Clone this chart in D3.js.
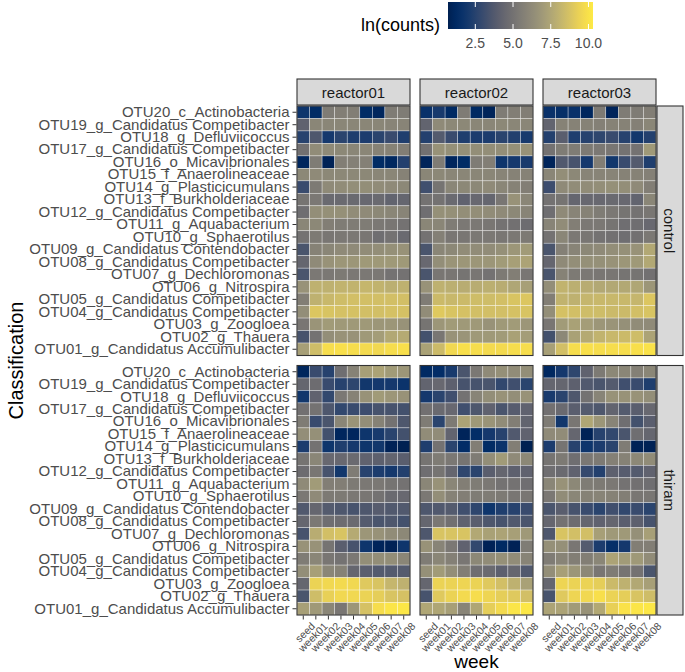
<!DOCTYPE html>
<html>
<head>
<meta charset="utf-8">
<script src="https://cdn.jsdelivr.net/npm/d3@7"></script>
<style>
body { margin: 0; background: #fff; }
text { font-family: "Liberation Sans", Arial, sans-serif; }
</style>
</head>
<body>
<svg></svg>
<script>
// categories
var weeks = ["seed","week01","week02","week03","week04","week05","week06","week07","week08"]
var otus = ["OTU20_c_Actinobacteria","OTU19_g_Candidatus Competibacter","OTU18_g_Defluviicoccus",
  "OTU17_g_Candidatus Competibacter","OTU16_o_Micavibrionales","OTU15_f_Anaerolineaceae",
  "OTU14_g_Plasticicumulans","OTU13_f_Burkholderiaceae","OTU12_g_Candidatus Competibacter",
  "OTU11_g_Aquabacterium","OTU10_g_Sphaerotilus","OTU09_g_Candidatus Contendobacter",
  "OTU08_g_Candidatus Competibacter","OTU07_g_Dechloromonas","OTU06_g_Nitrospira",
  "OTU05_g_Candidatus Competibacter","OTU04_g_Candidatus Competibacter","OTU03_g_Zoogloea",
  "OTU02_g_Thauera","OTU01_g_Candidatus Accumulibacter"]
var reactors = ["reactor01","reactor02","reactor03"]
var treatments = ["control","thiram"]
var legendTicks = [2.5, 5.0, 7.5, 10.0]

// ln(counts), rows listed top to bottom (OTU20 ... OTU01), columns seed..week08
var control_r01 = [
 [1.8,1.3,5.5,5.6,5.6,1.3,1.0,5.5,5.5],
 [4.2,6.0,6.0,6.0,6.0,6.0,6.0,5.9,5.9],
 [2.5,3.6,2.0,2.6,2.3,2.2,2.6,3.0,2.3],
 [4.9,6.3,6.2,6.1,6.0,6.0,5.8,5.8,5.6],
 [1.0,5.5,0.8,5.6,5.7,5.7,1.3,1.1,2.4],
 [6.1,6.2,6.1,6.1,6.1,6.1,6.0,6.0,5.8],
 [3.0,5.4,6.2,6.3,6.4,6.4,6.3,6.2,6.1],
 [5.1,5.3,4.6,4.6,4.6,4.5,4.6,4.3,4.4],
 [4.8,6.4,6.5,6.5,6.3,6.2,6.1,6.0,5.9],
 [6.0,6.1,5.6,5.5,5.5,5.5,5.3,5.2,5.0],
 [5.0,5.4,5.2,5.3,5.3,5.2,4.8,5.0,4.6],
 [3.5,5.8,6.0,6.2,6.2,6.3,6.4,6.5,6.6],
 [4.4,6.2,6.6,6.8,6.8,6.9,6.9,6.9,6.9],
 [3.5,5.3,5.3,5.4,5.3,5.3,5.3,5.0,5.0],
 [6.6,8.0,8.0,8.1,8.1,8.2,8.1,7.9,8.0],
 [5.6,8.0,8.3,8.5,8.6,8.6,8.6,8.6,8.6],
 [6.4,8.9,8.8,8.7,8.7,8.6,8.6,8.7,8.7],
 [5.2,6.7,7.0,6.9,6.9,6.9,6.8,6.8,6.6],
 [3.4,5.0,6.4,6.6,6.6,6.9,7.1,7.6,7.7],
 [7.2,8.5,9.8,9.9,9.8,9.7,9.6,9.8,9.9]
]
var control_r02 = [
 [1.6,2.1,1.2,5.5,1.2,0.9,5.5,5.6,5.6],
 [4.3,6.2,6.1,6.1,6.0,6.0,6.1,6.0,6.0],
 [2.4,3.8,3.0,2.3,2.2,2.2,2.6,2.4,2.1],
 [4.9,6.6,6.5,6.5,6.4,6.4,6.4,6.5,6.6],
 [0.9,5.5,1.0,1.3,5.5,5.6,1.8,2.0,2.1],
 [6.0,6.1,6.0,6.0,6.0,6.0,5.9,5.8,5.8],
 [3.2,5.1,6.0,6.1,6.1,6.2,6.0,5.8,5.6],
 [5.0,5.0,4.6,4.2,4.5,4.4,5.2,6.6,6.0],
 [4.8,6.5,6.5,6.4,6.4,6.3,6.2,6.1,5.9],
 [6.0,6.0,5.5,5.3,5.3,5.2,5.0,4.9,4.7],
 [5.0,5.7,5.2,5.2,5.3,5.3,5.2,5.3,5.4],
 [3.5,6.0,6.1,6.3,6.3,6.3,6.5,6.8,7.0],
 [4.5,6.4,6.7,6.8,6.8,6.8,7.0,7.2,7.4],
 [3.5,5.2,5.2,5.1,5.2,5.0,5.4,5.6,5.2],
 [6.6,8.0,7.9,7.8,7.8,7.9,7.8,7.5,7.2],
 [5.5,8.4,8.3,8.4,8.5,8.5,8.6,8.8,8.9],
 [6.3,9.0,8.8,8.7,8.6,8.6,8.6,8.7,8.8],
 [5.1,6.8,7.0,6.9,6.9,6.6,6.9,7.0,6.8],
 [3.3,5.2,6.6,6.7,6.9,6.9,7.0,7.3,7.1],
 [7.3,8.4,9.6,9.9,9.8,9.7,9.7,9.8,9.8]
]
var control_r03 = [
 [1.6,1.5,1.6,1.0,5.4,0.9,5.5,5.5,5.6],
 [4.3,5.8,5.8,5.8,5.7,5.8,5.8,5.7,6.0],
 [2.4,4.0,2.3,2.5,2.7,3.0,2.5,1.9,2.4],
 [5.0,5.5,5.5,5.4,5.3,5.2,5.0,5.0,6.9],
 [0.9,3.7,3.4,2.0,5.6,1.9,3.0,3.8,2.3],
 [6.0,6.4,6.1,5.9,5.9,5.9,5.8,5.8,5.7],
 [3.1,6.2,6.3,6.3,6.4,6.5,6.4,6.2,5.6],
 [5.0,5.1,4.4,4.5,4.5,4.6,4.5,4.3,6.0],
 [4.8,6.2,5.9,5.8,5.5,5.3,5.1,5.0,5.2],
 [5.9,6.3,5.6,5.3,5.3,5.1,4.8,4.8,4.5],
 [5.0,6.0,5.3,5.2,5.0,4.9,4.8,4.9,5.3],
 [3.5,5.7,5.9,6.1,6.2,6.4,6.5,6.6,7.6],
 [4.4,6.2,6.4,6.5,6.5,6.6,6.8,6.9,7.6],
 [3.5,5.8,5.4,5.3,5.2,5.2,5.1,5.1,4.9],
 [6.4,8.1,7.9,7.8,7.6,7.6,7.6,7.5,6.8],
 [5.6,8.1,8.0,8.2,8.3,8.3,8.3,8.2,8.9],
 [6.4,8.7,8.6,8.5,8.5,8.4,8.4,8.6,8.8],
 [5.2,7.0,7.3,7.1,6.8,6.7,6.5,6.3,6.2],
 [3.3,6.1,7.3,7.7,8.1,8.3,8.4,8.5,7.4],
 [7.2,8.6,9.8,9.9,9.8,9.8,9.8,9.9,10.0]
]
var thiram_r01 = [
 [1.0,3.0,2.5,4.8,5.8,7.2,7.4,7.0,6.8],
 [4.4,4.7,3.0,2.5,2.7,1.9,2.0,2.0,1.7],
 [1.9,4.2,2.8,5.3,5.8,6.6,7.0,6.8,6.6],
 [4.9,5.0,3.6,2.8,3.0,3.1,3.4,3.4,3.3],
 [5.5,3.0,3.5,6.0,6.7,6.4,5.8,5.0,3.6],
 [6.4,6.5,3.3,1.0,1.0,1.8,2.1,2.6,3.3],
 [2.2,5.0,1.8,2.3,2.0,1.8,1.9,0.8,0.7],
 [5.1,6.0,4.5,4.5,4.6,4.2,4.1,4.3,4.0],
 [4.7,5.2,3.4,1.9,5.5,2.5,2.2,2.0,2.4],
 [6.2,7.0,5.6,5.6,5.4,5.3,5.3,5.1,5.0],
 [5.3,6.2,5.4,5.4,5.3,5.2,5.0,4.6,4.5],
 [3.7,4.4,3.8,3.6,3.4,3.6,3.9,3.7,3.7],
 [4.4,5.3,4.8,4.7,4.6,3.8,3.5,3.6,3.3],
 [3.4,7.8,8.6,8.8,7.7,6.8,6.6,6.3,6.1],
 [6.6,6.6,5.1,4.0,3.4,1.8,0.9,0.8,1.8],
 [5.5,6.0,5.2,5.0,5.3,6.4,6.4,6.4,6.0],
 [6.4,7.2,6.0,5.8,4.4,4.0,3.8,3.8,3.8],
 [4.4,9.4,9.6,9.7,9.6,9.0,8.8,8.2,8.0],
 [3.5,8.5,9.3,9.6,9.6,9.4,9.2,8.8,8.7],
 [7.2,6.9,6.0,5.2,6.8,8.7,9.8,10.1,10.2]
]
var thiram_r02 = [
 [1.2,1.4,2.1,3.5,5.3,6.2,6.5,6.3,6.4],
 [4.3,4.5,4.1,3.4,3.4,3.5,2.8,3.2,2.6],
 [2.0,2.6,3.2,5.0,5.9,6.4,6.6,6.4,6.6],
 [4.9,4.6,4.5,3.2,3.6,4.2,3.5,3.9,4.2],
 [5.5,2.6,5.4,7.4,6.9,6.7,6.3,5.6,4.3],
 [6.3,6.3,4.3,0.9,1.4,2.0,2.5,3.7,4.2],
 [2.3,5.0,2.6,1.4,5.6,1.3,1.7,5.6,0.7],
 [5.1,5.5,5.3,5.1,5.5,6.4,7.0,6.2,6.1],
 [4.8,5.1,4.4,2.7,2.6,4.0,4.4,4.1,4.2],
 [6.0,6.6,6.0,5.6,5.5,5.3,5.0,5.0,4.8],
 [5.3,6.4,5.8,5.6,5.5,5.5,5.4,5.2,5.2],
 [3.6,3.7,3.8,3.2,2.7,1.8,2.3,2.5,3.0],
 [4.4,5.3,4.9,4.2,4.0,3.6,3.4,3.7,3.5],
 [3.6,8.8,8.8,8.8,7.6,7.3,7.4,7.2,6.9],
 [6.6,5.9,5.3,4.2,2.8,0.8,1.2,0.8,5.5],
 [5.5,6.0,5.7,5.2,6.1,6.3,6.5,6.3,5.9],
 [6.5,7.0,6.4,5.6,4.8,4.6,4.1,4.4,3.7],
 [4.4,9.4,9.4,9.5,9.4,9.0,8.6,8.0,7.3],
 [3.4,9.0,9.4,9.7,9.8,9.5,9.2,9.0,8.6],
 [7.5,7.5,7.2,5.9,7.5,9.2,9.7,10.1,10.2]
]
var thiram_r03 = [
 [1.1,2.0,2.7,4.2,5.4,6.1,6.0,5.7,6.0],
 [4.4,4.4,4.1,3.7,3.5,3.8,3.2,3.0,2.3],
 [2.1,2.6,3.6,5.0,5.9,6.6,6.6,6.6,6.4],
 [4.9,4.6,4.0,3.8,3.6,4.3,3.8,4.0,4.5],
 [5.5,1.9,5.2,7.5,6.8,5.9,4.8,3.3,4.0],
 [6.2,6.3,4.4,0.8,2.5,2.8,3.5,4.8,4.4],
 [2.2,5.1,2.5,1.8,2.2,2.6,5.5,0.8,0.8],
 [5.1,5.4,4.8,5.3,5.4,5.7,5.8,6.1,6.3],
 [4.8,4.6,4.2,2.9,2.4,4.1,3.9,3.8,4.2],
 [6.0,6.6,6.1,5.5,5.4,5.3,5.0,4.9,4.8],
 [5.3,6.3,6.0,5.8,5.9,5.8,5.6,5.2,5.2],
 [3.5,4.0,3.4,3.0,2.6,3.2,2.8,3.0,2.6],
 [4.4,5.0,4.7,4.4,4.2,4.4,4.0,4.1,3.4],
 [3.6,8.8,8.6,8.6,7.2,6.9,6.9,6.5,7.2],
 [6.5,6.5,5.2,3.8,2.2,1.5,2.0,5.6,5.6],
 [5.5,5.9,5.6,5.6,6.0,7.4,7.0,6.9,6.3],
 [6.4,7.2,6.8,6.1,5.2,5.5,5.1,5.0,3.5],
 [4.4,9.5,9.4,9.4,9.2,8.4,8.0,7.6,7.2],
 [3.4,9.0,9.5,9.6,9.9,9.4,9.2,8.8,8.5],
 [7.4,7.4,7.0,6.6,7.6,9.3,10.0,10.1,10.2]
]

var panelData = {
  control: [control_r01, control_r02, control_r03],
  thiram: [thiram_r01, thiram_r02, thiram_r03]
}

var screen = {width:685, height:672}
var panel = {left:297, top:106, width:113, height:249.5, gap:10}

var svg = d3.select("svg")
  .attr("width", screen.width)
  .attr("height", screen.height)

var cScale = d3.scaleSequential(d3.interpolateCividis).domain([0.69, 10.3])

var xScale = d3.scaleBand().domain(weeks).range([0, panel.width])
var yScale = d3.scaleBand().domain(otus).range([0, panel.height])

treatments.forEach(function(t, ti)
{
  var py = panel.top + ti*(panel.height + panel.gap)

  reactors.forEach(function(r, ri)
  {
    var px = panel.left + ri*(panel.width + panel.gap)
    var g = svg.append("g").attr("transform", "translate("+px+","+py+")")

    var cells = []
    panelData[t][ri].forEach(function(row, i)
    {
      row.forEach(function(v, j)
      {
        cells.push({otu: otus[i], week: weeks[j], value: v})
      })
    })

    g.selectAll("rect.cell")
      .data(cells)
      .enter()
      .append("rect")
      .attr("class", "cell")
      .attr("x", function(d){ return xScale(d.week) })
      .attr("y", function(d){ return yScale(d.otu) })
      .attr("width", xScale.bandwidth())
      .attr("height", yScale.bandwidth())
      .attr("fill", function(d){ return cScale(d.value) })
      .attr("stroke", "rgba(255,255,255,0.55)")
      .attr("stroke-width", 0.6)

    g.append("rect")
      .attr("width", panel.width)
      .attr("height", panel.height)
      .attr("fill", "none")
      .attr("stroke", "#333333")
      .attr("stroke-width", 1.1)

    // top strips
    if (ti == 0)
    {
      svg.append("rect")
        .attr("x", px).attr("y", 79)
        .attr("width", panel.width).attr("height", 26)
        .attr("fill", "#D9D9D9").attr("stroke", "#333333").attr("stroke-width", 1.1)
      svg.append("text")
        .attr("x", px + panel.width/2).attr("y", 97.5)
        .attr("text-anchor", "middle")
        .attr("font-size", 15).attr("fill", "#1A1A1A")
        .text(r)
    }

    // y axis on first column
    if (ri == 0)
    {
      var yAxis = d3.axisLeft(yScale).tickSize(4).tickPadding(3)
      var ya = svg.append("g")
        .attr("transform", "translate("+(px-0.5)+","+py+")")
        .call(yAxis)
      ya.select(".domain").remove()
      ya.selectAll("line").attr("stroke", "#333333")
      ya.selectAll("text")
        .attr("font-size", 15).attr("fill", "#4D4D4D")
        .style("font-family", "'Liberation Sans', Arial, sans-serif")
    }

    // x axis on bottom row
    if (ti == treatments.length-1)
    {
      var xAxis = d3.axisBottom(xScale).tickSize(4).tickPadding(2)
      var xa = svg.append("g")
        .attr("transform", "translate("+px+","+(py+panel.height+0.5)+")")
        .call(xAxis)
      xa.select(".domain").remove()
      xa.selectAll("line").attr("stroke", "#333333")
      xa.selectAll("text")
        .attr("font-size", 10.5).attr("fill", "#4D4D4D")
        .style("font-family", "'Liberation Sans', Arial, sans-serif")
        .attr("text-anchor", "end")
        .attr("dy", "0.7em")
        .attr("transform", "translate(3,2) rotate(-45)")
    }
  })

  // right strip
  var sx = panel.left + 3*panel.width + 2*panel.gap + 1
  svg.append("rect")
    .attr("x", sx).attr("y", py)
    .attr("width", 26).attr("height", panel.height)
    .attr("fill", "#D9D9D9").attr("stroke", "#333333").attr("stroke-width", 1.1)
  svg.append("text")
    .attr("transform", "translate("+(sx+12)+","+(py+panel.height/2)+") rotate(90)")
    .attr("text-anchor", "middle")
    .attr("dy", "0.35em")
    .attr("font-size", 15).attr("fill", "#1A1A1A")
    .text(t)
})

// axis titles
svg.append("text")
  .attr("x", panel.left + (3*panel.width + 2*panel.gap)/2)
  .attr("y", 668)
  .attr("text-anchor", "middle")
  .attr("font-size", 19)
  .text("week")

svg.append("text")
  .attr("transform", "translate(23,"+(panel.top + panel.height + panel.gap/2)+") rotate(-90)")
  .attr("text-anchor", "middle")
  .attr("font-size", 20)
  .text("Classification")

// legend
var legend = {x:448, y:2, width:145, height:27}
var lScale = d3.scaleLinear().domain(cScale.domain()).range([legend.x, legend.x+legend.width])

var grad = svg.append("defs").append("linearGradient").attr("id", "lg")
d3.range(0, 1.0001, 0.05).forEach(function(s)
{
  grad.append("stop")
    .attr("offset", (s*100)+"%")
    .attr("stop-color", d3.interpolateCividis(s))
})

svg.append("rect")
  .attr("x", legend.x).attr("y", legend.y)
  .attr("width", legend.width).attr("height", legend.height)
  .attr("fill", "url(#lg)")

legendTicks.forEach(function(v)
{
  var x = lScale(v)
  svg.append("line")
    .attr("x1", x).attr("x2", x).attr("y1", legend.y).attr("y2", legend.y+5)
    .attr("stroke", "#fff").attr("stroke-width", 1)
  svg.append("line")
    .attr("x1", x).attr("x2", x).attr("y1", legend.y+legend.height-5).attr("y2", legend.y+legend.height)
    .attr("stroke", "#fff").attr("stroke-width", 1)
  svg.append("text")
    .attr("x", x).attr("y", 48)
    .attr("text-anchor", "middle")
    .attr("font-size", 14).attr("fill", "#4D4D4D")
    .text(d3.format(".1f")(v))
})

svg.append("text")
  .attr("x", 361).attr("y", 31)
  .attr("font-size", 18)
  .text("ln(counts)")
</script>
</body>
</html>
